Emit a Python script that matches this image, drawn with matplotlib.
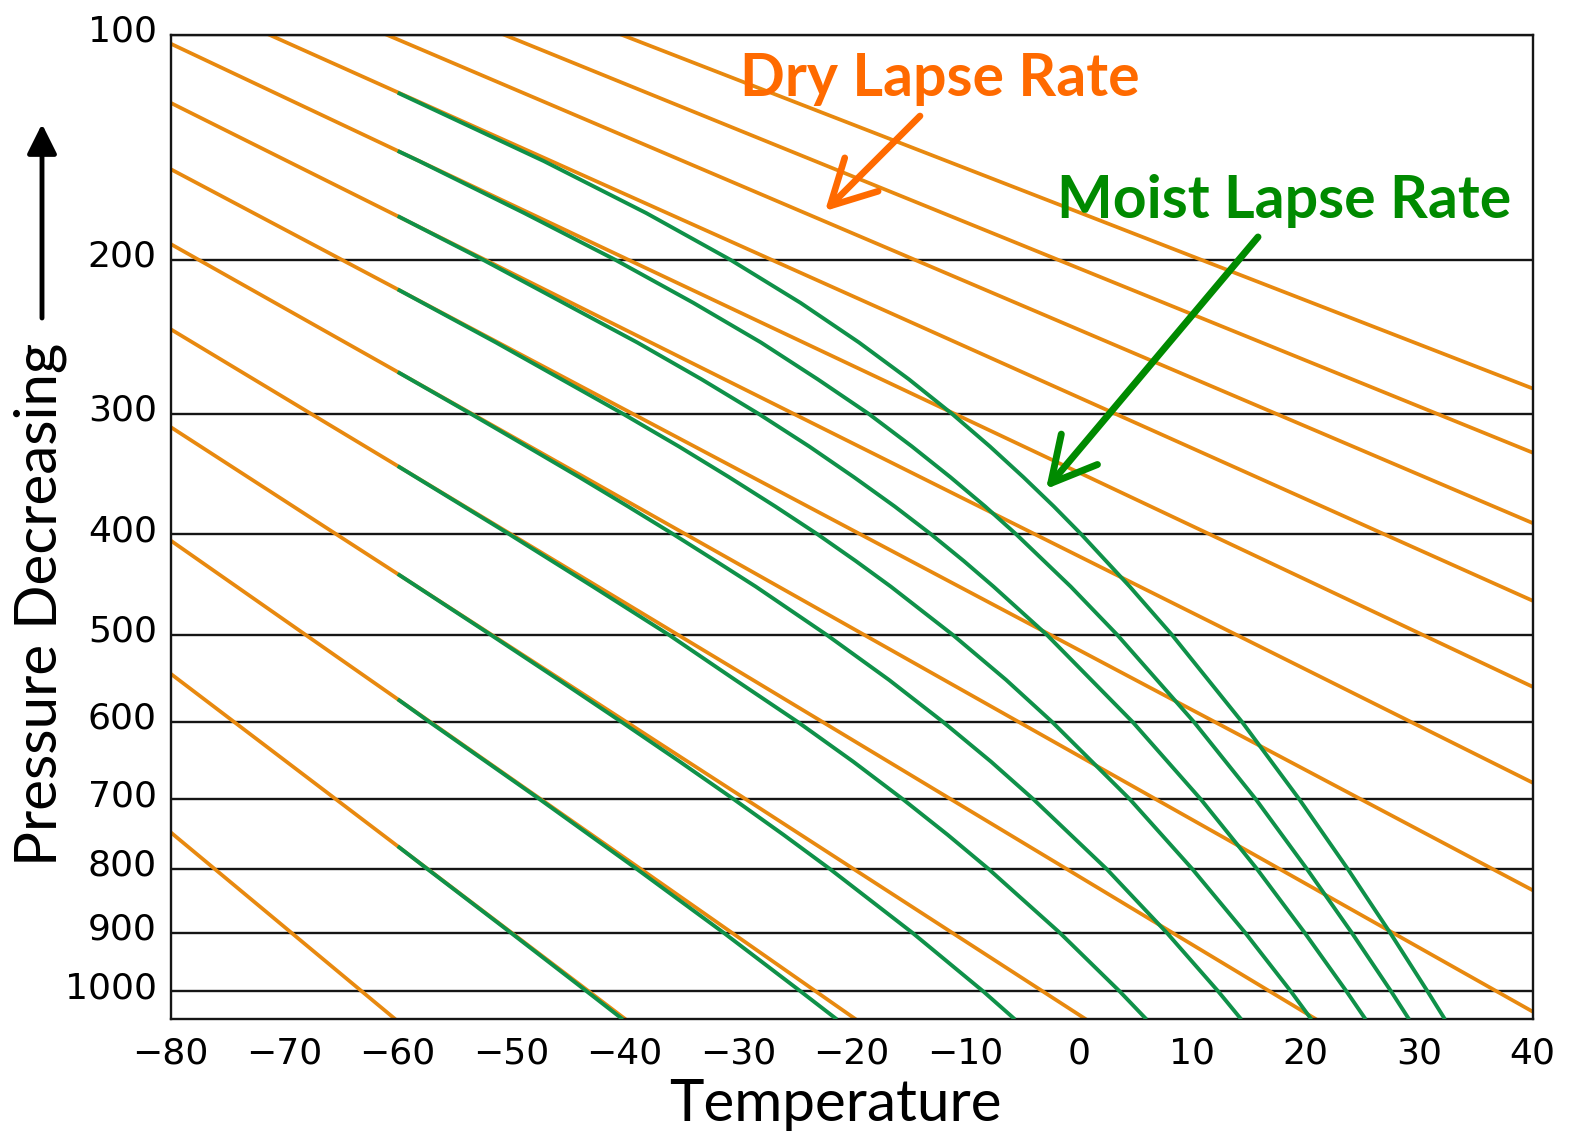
import numpy as np
import matplotlib
matplotlib.use("Agg")
import matplotlib.pyplot as plt
import matplotlib.transforms as mtransforms

# dry adiabats: temperature (deg C) where each line crosses 1000 hPa and 100 hPa
dry_t1000 = [-63.15, -43.15, -23.15, -3.15, 16.85, 36.85, 56.85, 76.85, 96.85,
             116.85, 136.85, 156.85, 176.85]
dry_t100 = [-164.45, -154.1, -143.75, -133.4, -123.04, -112.69, -102.34, -91.99,
            -81.63, -71.28, -60.93, -50.58, -40.23]

# moist adiabats: pressure (hPa) / temperature (deg C)
moist_p = [
    [1050, 1000, 900, 800, 766.4],
    [1050, 1000, 900, 800, 700, 600, 572.6],
    [1050, 1000, 900, 800, 750, 700, 650, 600, 550, 500, 437.5],
    [1050, 1000, 900, 800, 750, 700, 650, 600, 550, 500, 450, 400, 340.8],
    [1050, 1000, 900, 800, 700, 650, 600, 550, 500, 450, 425, 400, 375, 350, 325, 300, 269.9],
    [1050, 1000, 900, 800, 700, 600, 550, 500, 450, 425, 400, 375, 350, 325, 300, 250, 216.9],
    [1050, 1000, 900, 800, 700, 600, 500, 450, 425, 400, 375, 350, 325, 300, 275, 250, 200,
     176.5],
    [1050, 1000, 900, 800, 700, 600, 500, 450, 400, 375, 350, 325, 300, 275, 250, 225, 200,
     175, 150, 145.4],
    [1050, 1000, 900, 800, 700, 600, 500, 450, 400, 375, 350, 325, 300, 275, 250, 225, 200,
     175, 150, 121.1],
]
moist_t = [
    [-40.17, -43.33, -50.05, -57.4, -60],
    [-21.31, -24.49, -31.3, -38.95, -47.5, -57.2, -60],
    [-5.62, -8.4, -14.67, -21.93, -26.0, -30.4, -35.15, -40.28, -45.81, -51.79, -60],
    [5.97, 3.62, -1.68, -7.95, -11.54, -15.5, -19.87, -24.75, -30.27, -36.1, -42.8, -50.15,
     -60],
    [14.32, 12.3, 7.75, 2.45, -4.0, -7.73, -11.95, -16.72, -22.2, -28.45, -31.98, -35.7,
     -39.71, -44.0, -48.63, -53.55, -60],
    [20.5, 18.7, 14.66, 10.0, 4.5, -2.34, -6.4, -11.09, -16.55, -19.64, -23.0, -26.73,
     -30.8, -35.24, -40.15, -51.35, -60],
    [25.28, 23.6, 19.9, 15.7, 10.75, 4.75, -2.8, -7.5, -10.12, -13.0, -16.21, -19.8, -23.75,
     -28.2, -33.23, -38.9, -52.45, -60],
    [29.11, 27.53, 24.05, 20.1, 15.6, 10.15, 3.4, -0.7, -5.5, -8.24, -11.3, -14.7, -18.5,
     -22.99, -28.0, -33.95, -40.8, -48.85, -58.1, -60],
    [32.27, 30.74, 27.43, 23.7, 19.43, 14.39, 8.22, 4.5, 0.23, -2.19, -4.87, -7.83, -11.16,
     -14.96, -19.36, -24.51, -30.66, -38.1, -47.12, -60],
]

temp_ticks = [-80, -70, -60, -50, -40, -30, -20, -10, 0, 10, 20, 30, 40]
temp_grid = [-80, -60, -40, -20, 0, 20, 40]
p_ticks = [100, 200, 300, 400, 500, 600, 700, 800, 900, 1000]

orange = "#E8890F"
green = "#0F9149"
kappa = 0.286


def fwd(p):
    p = np.asarray(p, dtype=float)
    return np.sign(p) * np.abs(p) ** kappa


def inv(y):
    y = np.asarray(y, dtype=float)
    return np.sign(y) * np.abs(y) ** (1 / kappa)


fig = plt.figure(figsize=(15.78, 11.35), dpi=100)
ax = fig.add_axes([0.1082, 0.1019, 0.8631, 0.8673])
ax.set_yscale("function", functions=(fwd, inv))
ax.set_xlim(-80, 40)
ax.set_ylim(1050, 100)

# dry adiabats (straight lines on this chart)
for t1, t2 in zip(dry_t1000, dry_t100):
    ax.axline((t1, 1000), (t2, 100), color=orange, lw=2.7, zorder=2)

# moist adiabats
for pp, tt in zip(moist_p, moist_t):
    ax.plot(tt, pp, color=green, lw=2.8, zorder=3, solid_capstyle="butt",
            solid_joinstyle="round")

ax.set_xticks(temp_ticks)
ax.set_xticks(temp_grid, minor=True)
ax.set_yticks(p_ticks)
ax.set_yticks([], minor=True)
ax.set_yticklabels([str(p) for p in p_ticks])
ax.grid(which="minor", axis="x", color="#151515", lw=1.7, zorder=1)
ax.grid(which="major", axis="y", color="#151515", lw=1.7, zorder=1)
ax.tick_params(which="both", length=0)
ax.tick_params(axis="x", pad=12, labelsize=26)
ax.tick_params(axis="y", pad=10, labelsize=26)
for s in ax.spines.values():
    s.set_linewidth(1.7)
    s.set_color("#151515")

shift = mtransforms.ScaledTranslation(0, 0.065, fig.dpi_scale_trans)
for lab in ax.get_yticklabels():
    lab.set_transform(lab.get_transform() + shift)

W, H = 1578.0, 1135.0


def ff(x, y):
    return (x / W, 1 - y / H)


fig.text(*ff(835, 1121), "Temperature", fontsize=42, family="Lato",
         ha="center", va="baseline")
fig.text(*ff(40, 604), "Pressure Decreasing", fontsize=42, family="Lato",
         rotation=90, ha="center", va="center")

ax.annotate("", xy=ff(42, 124), xytext=ff(42, 318), xycoords="figure fraction",
            textcoords="figure fraction",
            arrowprops=dict(arrowstyle="-|>,head_length=0.9,head_width=0.45",
                            color="black", lw=3.5, mutation_scale=20,
                            shrinkA=0, shrinkB=0))

fig.text(*ff(940, 96), "Dry Lapse Rate", fontsize=42.5, family="Lato",
         weight="bold", color="#FF6A00", ha="center", va="baseline")
ax.annotate("", xy=ff(825, 211), xytext=ff(920, 116), xycoords="figure fraction",
            textcoords="figure fraction",
            arrowprops=dict(arrowstyle="->,head_length=1.6,head_width=0.85",
                            color="#FF6A00", lw=4.8, mutation_scale=20,
                            shrinkA=0, shrinkB=0))

fig.text(*ff(1284, 218), "Moist Lapse Rate", fontsize=42.5, family="Lato",
         weight="bold", color="#008A00", ha="center", va="baseline")
ax.annotate("", xy=ff(1046, 489), xytext=ff(1258, 237), xycoords="figure fraction",
            textcoords="figure fraction",
            arrowprops=dict(arrowstyle="->,head_length=1.6,head_width=0.85",
                            color="#008A00", lw=5, mutation_scale=20,
                            shrinkA=0, shrinkB=0))

fig.savefig("out.png", dpi=100)
